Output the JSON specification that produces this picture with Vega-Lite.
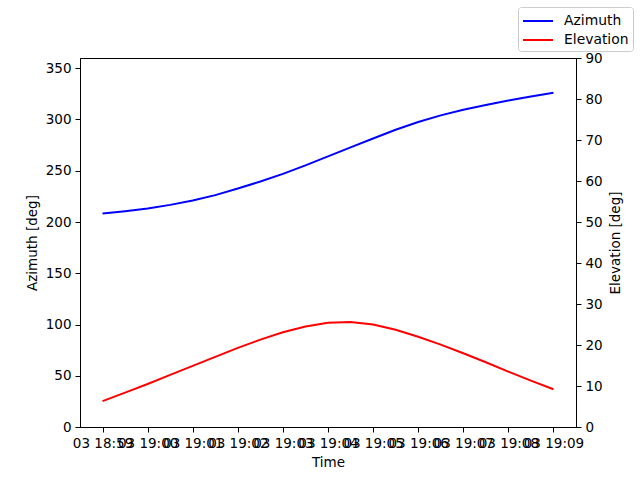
{
  "$schema": "https://vega.github.io/schema/vega-lite/v6.json",
  "autosize": {"type": "none"},
  "padding": {"left": 80, "top": 58, "right": 64, "bottom": 53},
  "width": 496,
  "height": 369,
  "config": {
    "font": "DejaVu Sans",
    "view": {"stroke": "black", "strokeWidth": 1},
    "axis": {
      "domainColor": "black", "tickColor": "black", "labelColor": "black", "titleColor": "black",
      "labelFont": "DejaVu Sans", "titleFont": "DejaVu Sans",
      "labelFontSize": 13.5, "titleFontSize": 13.5, "titleFontWeight": "normal",
      "tickSize": 5, "tickWidth": 1, "domainWidth": 1, "labelPadding": 4, "grid": false
    }
  },
  "data": {"values": [
    {"time": "2024-01-03T18:59:00", "azimuth": 208.3, "elevation": 6.3},
    {"time": "2024-01-03T18:59:30", "azimuth": 210.6, "elevation": 8.4},
    {"time": "2024-01-03T19:00:00", "azimuth": 213.2, "elevation": 10.5},
    {"time": "2024-01-03T19:00:30", "azimuth": 216.7, "elevation": 12.7},
    {"time": "2024-01-03T19:01:00", "azimuth": 220.9, "elevation": 14.9},
    {"time": "2024-01-03T19:01:30", "azimuth": 226.2, "elevation": 17.1},
    {"time": "2024-01-03T19:02:00", "azimuth": 232.7, "elevation": 19.3},
    {"time": "2024-01-03T19:02:30", "azimuth": 239.5, "elevation": 21.3},
    {"time": "2024-01-03T19:03:00", "azimuth": 247.0, "elevation": 23.1},
    {"time": "2024-01-03T19:03:30", "azimuth": 255.3, "elevation": 24.5},
    {"time": "2024-01-03T19:04:00", "azimuth": 264.0, "elevation": 25.4},
    {"time": "2024-01-03T19:04:30", "azimuth": 272.8, "elevation": 25.6},
    {"time": "2024-01-03T19:05:00", "azimuth": 281.5, "elevation": 25.0},
    {"time": "2024-01-03T19:05:30", "azimuth": 290.0, "elevation": 23.7},
    {"time": "2024-01-03T19:06:00", "azimuth": 297.5, "elevation": 22.0},
    {"time": "2024-01-03T19:06:30", "azimuth": 304.0, "elevation": 20.1},
    {"time": "2024-01-03T19:07:00", "azimuth": 309.5, "elevation": 18.0},
    {"time": "2024-01-03T19:07:30", "azimuth": 314.2, "elevation": 15.8},
    {"time": "2024-01-03T19:08:00", "azimuth": 318.5, "elevation": 13.5},
    {"time": "2024-01-03T19:08:30", "azimuth": 322.5, "elevation": 11.3},
    {"time": "2024-01-03T19:09:00", "azimuth": 326.0, "elevation": 9.2}
  ]},
  "layer": [
    {
      "mark": {"type": "line", "strokeWidth": 2},
      "encoding": {
        "x": {
          "field": "time", "type": "temporal", "title": "Time",
          "scale": {"domain": ["2024-01-03T18:58:30", "2024-01-03T19:09:30"], "nice": false},
          "axis": {"format": "%d %H:%M", "tickCount": 11,
                   "labelOverlap": false, "labelFlush": false, "labelBound": false, "titlePadding": 6}
        },
        "y": {"field": "azimuth", "type": "quantitative", "title": "Azimuth [deg]",
              "scale": {"domain": [0, 360], "nice": false},
              "axis": {"values": [0, 50, 100, 150, 200, 250, 300, 350], "titlePadding": 6}},
        "color": {"datum": "Azimuth", "type": "nominal",
                  "scale": {"domain": ["Azimuth", "Elevation"], "range": ["#0000ff", "#ff0000"]},
                  "legend": {"title": null, "orient": "none", "legendX": 438, "legendY": -51,
                             "symbolType": "M-1,0H2.333", "symbolSize": 324, "symbolStrokeWidth": 2,
                             "labelFontSize": 13.9, "labelFont": "DejaVu Sans", "labelColor": "black",
                             "padding": 4, "strokeColor": "#cccccc", "fillColor": "white",
                             "cornerRadius": 3, "rowPadding": 2, "labelOffset": 22, "zindex": 0}}
      }
    },
    {
      "mark": {"type": "line", "strokeWidth": 2},
      "encoding": {
        "x": {"field": "time", "type": "temporal"},
        "y": {"field": "elevation", "type": "quantitative", "title": "Elevation [deg]",
              "scale": {"domain": [0, 90], "nice": false},
              "axis": {"orient": "right", "values": [0, 10, 20, 30, 40, 50, 60, 70, 80, 90],
                       "titlePadding": 6, "titleAngle": 270, "titleBaseline": "top", "zindex": 1}},
        "color": {"datum": "Elevation", "type": "nominal"}
      }
    }
  ],
  "resolve": {"scale": {"y": "independent"}}
}
